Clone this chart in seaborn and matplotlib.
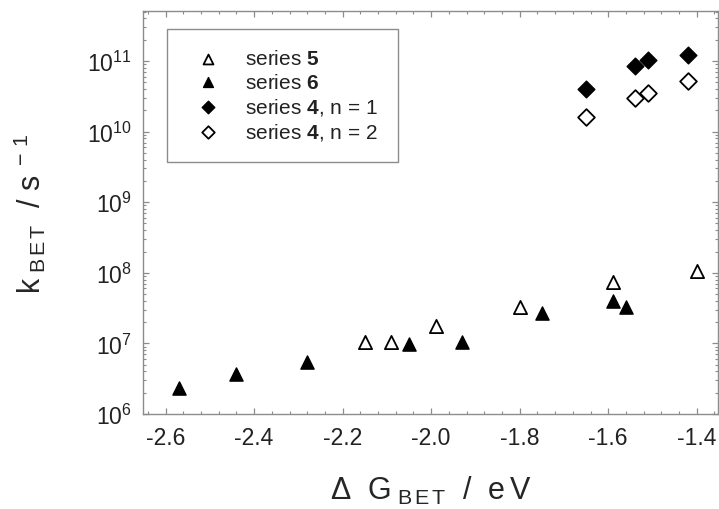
import matplotlib
matplotlib.use("Agg")
import matplotlib.pyplot as plt
from matplotlib.ticker import MultipleLocator, LogLocator, NullFormatter
import seaborn as sns
import pandas as pd

# data
series5_dg = [-2.15, -2.09, -1.99, -1.80, -1.59, -1.40]
series5_k = [1.06e7, 1.06e7, 1.78e7, 3.24e7, 7.3e7, 1.07e8]

series6_dg = [-2.57, -2.44, -2.28, -2.05, -1.93, -1.75, -1.59, -1.56]
series6_k = [2.3e6, 3.7e6, 5.5e6, 9.8e6, 1.06e7, 2.7e7, 4.0e7, 3.25e7]

series4_dg = [-1.65, -1.54, -1.51, -1.42]
series4_n1_k = [4.07e10, 8.5e10, 1.02e11, 1.22e11]
series4_n2_k = [1.63e10, 2.97e10, 3.49e10, 5.15e10]

labels = ["series $\\mathbf{5}$", "series $\\mathbf{6}$",
          "series $\\mathbf{4}$, n = 1", "series $\\mathbf{4}$, n = 2"]

sns.set_style("ticks")
plt.rcParams['font.family'] = ['Liberation Sans', 'DejaVu Sans']
plt.rcParams['mathtext.fontset'] = 'custom'
plt.rcParams['mathtext.rm'] = 'Liberation Sans'
plt.rcParams['mathtext.it'] = 'Liberation Sans:italic'
plt.rcParams['mathtext.bf'] = 'Liberation Sans:bold'
plt.rcParams['text.color'] = '#222222'

fig = plt.figure(figsize=(7.19, 5.10), dpi=100)
ax = fig.add_axes([143/719, 1 - 415/510, 575/719, 403/510])

df5 = pd.DataFrame({"dg": series5_dg, "k": series5_k})
df6 = pd.DataFrame({"dg": series6_dg, "k": series6_k})
df4a = pd.DataFrame({"dg": series4_dg, "k": series4_n1_k})
df4b = pd.DataFrame({"dg": series4_dg, "k": series4_n2_k})

tri = 9.5 ** 2
dia = 8.5 ** 2
sns.scatterplot(data=df5, x="dg", y="k", marker="^", s=tri, facecolor="white",
                edgecolor="black", linewidth=1.3, label=labels[0], ax=ax, zorder=3)
sns.scatterplot(data=df6, x="dg", y="k", marker="^", s=tri, color="black",
                edgecolor="black", linewidth=1.0, label=labels[1], ax=ax, zorder=3)
sns.scatterplot(data=df4a, x="dg", y="k", marker="D", s=dia, color="black",
                edgecolor="black", linewidth=1.0, label=labels[2], ax=ax, zorder=3)
sns.scatterplot(data=df4b, x="dg", y="k", marker="D", s=dia, facecolor="white",
                edgecolor="black", linewidth=1.3, label=labels[3], ax=ax, zorder=3)

ax.set_yscale("log")
ax.set_xlim(-2.651, -1.352)
ax.set_ylim(1e6, 5.1e11)

ax.xaxis.set_major_locator(MultipleLocator(0.2))
ax.xaxis.set_minor_locator(MultipleLocator(0.04))
ax.xaxis.set_major_formatter(plt.FuncFormatter(lambda v, p: f"{v:.1f}"))
ax.yaxis.set_major_locator(LogLocator(base=10, numticks=20))
ax.yaxis.set_minor_locator(LogLocator(base=10, subs=range(2, 10), numticks=20))
ax.yaxis.set_minor_formatter(NullFormatter())

frame = '#8c8c8c'
for sp in ax.spines.values():
    sp.set_color(frame)
    sp.set_linewidth(1.0)
ax.tick_params(which="both", direction="in", top=True, right=True,
               color=frame, labelcolor='#222222')
ax.tick_params(which="major", length=4.5, width=0.9, labelsize=16.5)
ax.tick_params(which="minor", length=2.2, width=0.8)
ax.tick_params(axis="x", which="major", pad=9)
ax.tick_params(axis="y", which="major", pad=8)

ax.set_xlabel(r"$\Delta\ \ \mathrm{G}_{\ \mathrm{B\,E\,T}}\ \ /\ \ \mathrm{e\,V}$", fontsize=22)
ax.set_ylabel(r"$\mathrm{k}_{\ \mathrm{B\,E\,T}}\ \ /\ \mathrm{s}^{\ -\,1}$", fontsize=22)
ax.xaxis.set_label_coords(0.5, -0.148)
ax.yaxis.set_label_coords(-0.165, 0.5)

leg = ax.legend(loc="upper left", bbox_to_anchor=(0.041, 0.955), fontsize=15,
                frameon=True, fancybox=False, shadow=False, framealpha=1,
                edgecolor=frame, borderpad=0.97, labelspacing=0.2,
                handlelength=2.0, handletextpad=0.8, borderaxespad=0,
                scatterpoints=1, markerscale=0.75)
leg.get_frame().set_linewidth(1.0)

fig.savefig("out.png", dpi=100)
